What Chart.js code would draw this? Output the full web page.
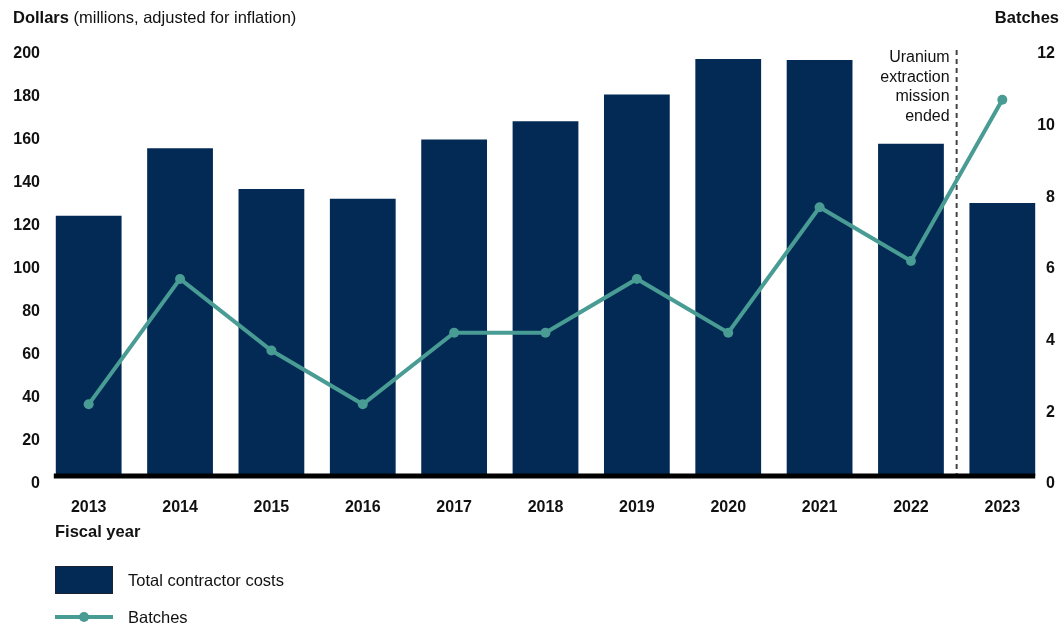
<!DOCTYPE html>
<html lang="en">
<head>
  <meta charset="UTF-8" />
  <title>Total contractor costs and batches, fiscal years 2013-2023</title>
  <script src="https://cdn.jsdelivr.net/npm/chart.js"></script>
  <style>
    body { margin: 0; background: #fff; font-family: "Liberation Sans", Arial, sans-serif; color: #111; }
    #wrap { position: relative; width: 1060px; height: 628px; }
    #wrap canvas { position: absolute; left: 0; top: 0; }
    .txt { position: absolute; font-size: 16.5px; line-height: 20px; white-space: nowrap; }
    .legend-row { position: absolute; left: 55px; display: flex; align-items: center; font-size: 16.5px; }
    .legend-row .sw { width: 58px; margin-right: 15px; position: relative; }
  </style>
</head>
<body>
  <div id="wrap">
    <canvas id="costChart" width="1060" height="628"></canvas>
    <div class="txt" style="left:13px; top:7px;"><b>Dollars</b> (millions, adjusted for inflation)</div>
    <div class="txt" style="right:1px; top:7px;"><b>Batches</b></div>
    <div class="txt" style="left:55px; top:521px;"><b>Fiscal year</b></div>
    <div id="legend"></div>
  </div>

  <script>
    const years = ["2013", "2014", "2015", "2016", "2017", "2018", "2019", "2020", "2021", "2022", "2023"];
    const contractorCosts = [121, 152.5, 133.5, 129, 156.5, 165, 177.5, 194, 193.5, 154.5, 127];
    const batches = [2, 5.5, 3.5, 2, 4, 4, 5.5, 4, 7.5, 6, 10.5];
    const dollarTicks = [0, 20, 40, 60, 80, 100, 120, 140, 160, 180, 200];
    const batchTicks = [0, 2, 4, 6, 8, 10, 12];
    const noteLines = ["Uranium", "extraction", "mission", "ended"];

    const navy = "#022a55";
    const teal = "#489c94";

    Chart.defaults.font.family = '"Liberation Sans", Arial, sans-serif';
    Chart.defaults.font.size = 16;
    Chart.defaults.color = "#111";

    // black zero line under the bars + dashed marker between 2022 and 2023
    const extras = {
      id: "extras",
      beforeDatasetsDraw(chart) {
        const { ctx, scales: { x } } = chart;
        const area = chart.chartArea;
        const mx = (x.getPixelForValue(9) + x.getPixelForValue(10)) / 2;
        ctx.save();
        ctx.strokeStyle = "#444";
        ctx.lineWidth = 2;
        ctx.setLineDash([5, 4]);
        ctx.beginPath();
        ctx.moveTo(mx, area.top + 4);
        ctx.lineTo(mx, area.bottom + 4);
        ctx.stroke();
        ctx.setLineDash([]);
        ctx.fillStyle = "#111";
        ctx.font = '16px "Liberation Sans", Arial, sans-serif';
        ctx.textAlign = "right";
        ctx.textBaseline = "middle";
        noteLines.forEach((t, i) => ctx.fillText(t, mx - 7, area.top + 12 + i * 19.5));
        ctx.restore();
      },
      afterDatasetsDraw(chart) {
        const { ctx } = chart;
        const bars = chart.getDatasetMeta(0).data;
        const first = bars[0], last = bars[bars.length - 1];
        const y = chart.scales.y.getPixelForValue(0);
        ctx.save();
        ctx.strokeStyle = "#000";
        ctx.lineWidth = 5;
        ctx.beginPath();
        ctx.moveTo(first.x - first.width / 2 - 2, y);
        ctx.lineTo(last.x + last.width / 2, y);
        ctx.stroke();
        ctx.restore();
      }
    };

    const chart = new Chart(document.getElementById("costChart"), {
      data: {
        labels: years,
        datasets: [
          {
            type: "bar",
            label: "Total contractor costs",
            data: contractorCosts,
            backgroundColor: navy,
            borderWidth: 0,
            barPercentage: 0.72,
            categoryPercentage: 1,
            yAxisID: "y",
            order: 2
          },
          {
            type: "line",
            label: "Batches",
            data: batches,
            borderColor: teal,
            backgroundColor: teal,
            borderWidth: 4,
            pointRadius: 5,
            pointBackgroundColor: teal,
            pointBorderWidth: 0,
            tension: 0,
            yAxisID: "y1",
            order: 1
          }
        ]
      },
      options: {
        responsive: false,
        animation: false,
        layout: { padding: { top: 46, bottom: 92, left: 0, right: 0 } },
        plugins: { legend: { display: false }, tooltip: { enabled: false } },
        scales: {
          x: {
            grid: { display: false, drawTicks: false },
            border: { display: false },
            ticks: { font: { weight: "bold" }, padding: 22 },
            afterFit(s) { s.height = 60; }
          },
          y: {
            position: "left",
            min: 0,
            max: 200,
            grid: { display: false, drawTicks: false },
            border: { display: false },
            afterBuildTicks(s) { s.ticks = dollarTicks.map(v => ({ value: v })); },
            ticks: { font: { weight: "bold" }, padding: 3, labelOffset: 8 },
            afterFit(s) { s.width = 43; }
          },
          y1: {
            position: "right",
            min: 0,
            max: 12,
            grid: { display: false, drawTicks: false },
            border: { display: false },
            afterBuildTicks(s) { s.ticks = batchTicks.map(v => ({ value: v })); },
            ticks: { font: { weight: "bold" }, mirror: true, padding: 7, labelOffset: 8 },
            afterFit(s) { s.width = 12; }
          }
        }
      },
      plugins: [extras]
    });

    // legend built from the chart's datasets
    const legendEl = document.getElementById("legend");
    chart.data.datasets.forEach((ds, i) => {
      const row = document.createElement("div");
      row.className = "legend-row";
      if (ds.type === "bar") {
        row.style.top = "566px";
        row.innerHTML = `<span class="sw" style="height:28px;background:${ds.backgroundColor};border:1px solid #1c2433;box-sizing:border-box;"></span><span>${ds.label}</span>`;
      } else {
        row.style.top = "607px";
        row.innerHTML = `<span class="sw" style="height:20px;">
            <span style="position:absolute;left:0;right:0;top:8px;height:4px;background:${ds.borderColor};"></span>
            <span style="position:absolute;left:24px;top:5px;width:10px;height:10px;border-radius:50%;background:${ds.borderColor};"></span>
          </span><span>${ds.label}</span>`;
      }
      legendEl.appendChild(row);
    });
  </script>
</body>
</html>
